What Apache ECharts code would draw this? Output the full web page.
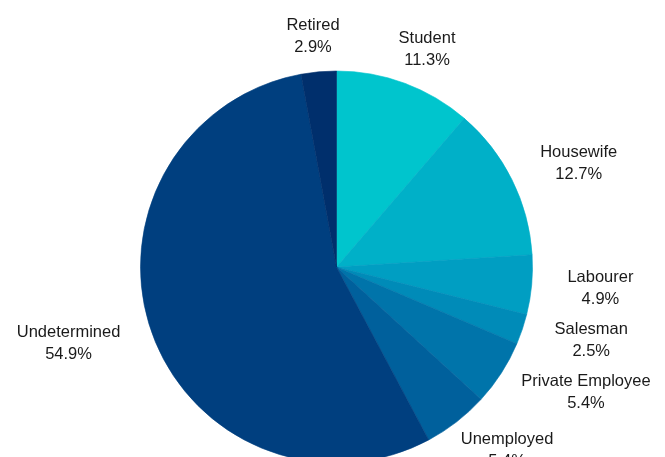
<!DOCTYPE html>
<html>
<head>
<meta charset="utf-8">
<script src="https://cdn.jsdelivr.net/npm/echarts@6/dist/echarts.min.js"></script>
<style>
html,body{margin:0;padding:0;background:#fff;}
#main{width:665px;height:457px;}
</style>
</head>
<body>
<div id="main"></div>
<script>
const categories = ['Student', 'Housewife', 'Labourer', 'Salesman', 'Private Employee', 'Unemployed', 'Undetermined', 'Retired'];
const values = [11.3, 12.7, 4.9, 2.5, 5.4, 5.4, 54.9, 2.9];
const colors = ['#00C5CD', '#00B0C8', '#009EC2', '#008BB8', '#0074AA', '#00609C', '#003F7F', '#002F6C'];

const chart = echarts.init(document.getElementById('main'), null, {renderer: 'canvas'});
const data = categories.map((c, i) => ({
  name: c, value: values[i],
  itemStyle: {color: colors[i], borderColor: colors[i], borderWidth: 0.6}
}));

chart.setOption({
  animation: false,
  backgroundColor: '#ffffff',
  series: [{
    type: 'pie',
    center: [336.5, 267],
    radius: 196,
    startAngle: 90,
    clockwise: true,
    avoidLabelOverlap: false,
    data: data,
    emphasis: {disabled: true},
    label: {
      show: true,
      position: 'outside',
      formatter: p => '{a|' + p.name + '}\n{a|' + p.value.toFixed(1) + '%}',
      rich: {
        a: {fontFamily: 'Liberation Sans, Arial, sans-serif', fontSize: 16.5, color: '#1a1a1a', lineHeight: 22, align: 'center'}
      }
    },
    labelLine: {show: true, length: 36, length2: 0, lineStyle: {opacity: 0}},
    labelLayout: function (params) {
      const pts = params.labelLinePoints;
      if (!pts) return {};
      const p1 = pts[0], p2 = pts[1];
      const dx = p2[0] - p1[0], dy = p2[1] - p1[1];
      const len = Math.sqrt(dx * dx + dy * dy) || 1;
      const ux = dx / len;
      const w = params.labelRect.width;
      return {
        x: p2[0] + ux * w / 2,
        y: p2[1],
        align: 'center',
        verticalAlign: 'middle'
      };
    }
  }]
});
</script>
</body>
</html>
